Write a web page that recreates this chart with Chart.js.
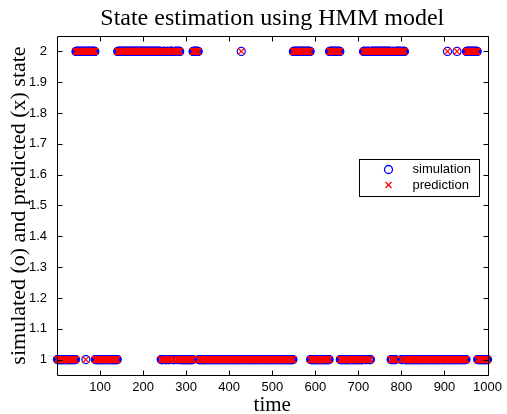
<!DOCTYPE html>
<html>
<head>
<meta charset="utf-8">
<script src="https://cdn.jsdelivr.net/npm/chart.js@4.4.1/dist/chart.umd.min.js"></script>
<style>
html,body{margin:0;padding:0;background:#fff;}
#wrap{width:507px;height:414px;}
</style>
</head>
<body>
<div id="wrap"><canvas id="c" width="507" height="414"></canvas></div>
<script>
// ---- data ----
const titleText = "State estimation using HMM model";
const xAxisLabel = "time";
const yAxisLabel = "simulated (o) and predicted (x) state";
const seriesNames = ["simulation", "prediction"];
const xTickValues = [100, 200, 300, 400, 500, 600, 700, 800, 900, 1000];
const yTickValues = [1, 1.1, 1.2, 1.3, 1.4, 1.5, 1.6, 1.7, 1.8, 1.9, 2];
const yTickLabels = ["1", "1.1", "1.2", "1.3", "1.4", "1.5", "1.6", "1.7", "1.8", "1.9", "2"];
// state sequence as runs: last time step of each run and its state
const simRunEnds   = [43,66,67,88,140,241,246,250,255,258,262,268,273,279,281,285,315,328,427,428,548,588,632,657,711,716,719,724,728,775,779,782,786,799,802,807,906,907,928,929,950,976,1000];
const simRunStates = [1, 2, 1, 2, 1,  2,  1,  2,  1,  2,  1,  2,  1,  2,  1,  2,  1,  2,  1,  2,  1,  2,  1,  2,  1,  2,  1,  2,  1,  2,  1,  2,  1,  2,  1,  2,  1,  2,  1,  2,  1,  2,  1];
const predRunEnds   = [43,66,67,88,140,241,246,250,255,258,262,268,273,279,281,285,315,328,427,428,548,588,632,657,711,716,719,724,728,775,779,782,786,799,802,807,906,907,928,929,950,976,1000];
const predRunStates = [1, 2, 1, 2, 1,  2,  1,  2,  1,  2,  1,  2,  1,  2,  1,  2,  1,  2,  1,  2,  1,  2,  1,  2,  1,  2,  1,  2,  1,  2,  1,  2,  1,  2,  1,  2,  1,  2,  1,  2,  1,  2,  1];

function expandRuns(ends, states){
  const pts = [];
  let t = 1;
  for (let i = 0; i < ends.length; i++){
    for (; t <= ends[i]; t++) pts.push({x: t, y: states[i]});
  }
  return pts;
}
const simPoints = expandRuns(simRunEnds, simRunStates);
const predPoints = expandRuns(predRunEnds, predRunStates);

const SERIF = "'Liberation Serif','DejaVu Serif',serif";
const SANS = "'Liberation Sans',Arial,sans-serif";

const framePlugin = {
  id: 'frame',
  afterDatasetsDraw(chart){
    const ctx = chart.ctx, a = chart.chartArea;
    const xs = chart.scales.x, ys = chart.scales.y;
    ctx.save();
    ctx.strokeStyle = '#000';
    ctx.lineWidth = 1;
    const L = Math.round(a.left)+0.5, R = Math.round(a.right)+0.5, T = Math.round(a.top)+0.5, B = Math.round(a.bottom)+0.5;
    ctx.beginPath();
    ctx.rect(L, T, R-L, B-T);
    ctx.stroke();
    const tl = 5;
    ctx.beginPath();
    xTickValues.forEach(v => {
      const px = Math.round(xs.getPixelForValue(v))+0.5;
      ctx.moveTo(px, B); ctx.lineTo(px, B-tl);
      ctx.moveTo(px, T); ctx.lineTo(px, T+tl);
    });
    yTickValues.forEach(v => {
      const py = Math.round(ys.getPixelForValue(v))+0.5;
      ctx.moveTo(L, py); ctx.lineTo(L+tl, py);
      ctx.moveTo(R, py); ctx.lineTo(R-tl, py);
    });
    ctx.stroke();

    // titles
    ctx.fillStyle = '#000';
    ctx.textAlign = 'center';
    ctx.textBaseline = 'alphabetic';
    ctx.font = '24px ' + SERIF;
    ctx.fillText(titleText, (a.left+a.right)/2, 25);
    ctx.font = '21px ' + SERIF;
    ctx.fillText(xAxisLabel, (a.left+a.right)/2, 411);
    ctx.save();
    ctx.font = '22px ' + SERIF;
    ctx.translate(25, (a.top+a.bottom)/2);
    ctx.rotate(-Math.PI/2);
    ctx.fillText(yAxisLabel, 0, 0);
    ctx.restore();

    // legend
    const lx = 359.5, ly = 159.5, lw = 120, lh = 37;
    ctx.fillStyle = '#fff';
    ctx.fillRect(lx, ly, lw, lh);
    ctx.strokeStyle = '#000';
    ctx.lineWidth = 1;
    ctx.strokeRect(lx, ly, lw, lh);
    const ds = chart.data.datasets;
    const rows = [169.5, 185];
    ds.forEach((d, i) => {
      ctx.strokeStyle = d.borderColor;
      ctx.lineWidth = 1.3;
      ctx.beginPath();
      if (d.pointStyle === 'circle'){
        ctx.arc(388.5, rows[i], 4, 0, Math.PI*2);
      } else {
        const o = 3;
        ctx.moveTo(388.5-o, rows[i]-o); ctx.lineTo(388.5+o, rows[i]+o);
        ctx.moveTo(388.5-o, rows[i]+o); ctx.lineTo(388.5+o, rows[i]-o);
      }
      ctx.stroke();
      ctx.fillStyle = '#000';
      ctx.textAlign = 'left';
      ctx.textBaseline = 'middle';
      ctx.font = '13px ' + SANS;
      ctx.fillText(d.label, 412.5, rows[i]);
    });
    ctx.restore();
  }
};

new Chart(document.getElementById('c'), {
  type: 'scatter',
  data: {
    datasets: [
      {label: seriesNames[0], data: simPoints, pointStyle: 'circle', pointRadius: 4, borderColor: '#0000ff', backgroundColor: 'rgba(0,0,0,0)', borderWidth: 1.2, clip: false, order: 2},
      {label: seriesNames[1], data: predPoints, pointStyle: 'crossRot', pointRadius: 4.6, borderColor: '#ff0000', backgroundColor: '#ff0000', borderWidth: 1.3, clip: false, order: 1}
    ]
  },
  options: {
    responsive: false,
    animation: false,
    events: [],
    layout: {padding: {left: 0, right: 16, top: 36, bottom: 0}},
    plugins: {legend: {display: false}, title: {display: false}, tooltip: {enabled: false}},
    scales: {
      x: {
        type: 'linear', min: 0, max: 1000,
        afterBuildTicks: s => { s.ticks = xTickValues.map(v => ({value: v})); },
        afterFit: s => { s.height = 39; },
        grid: {display: false, drawTicks: false},
        border: {display: false},
        ticks: {color: '#000', font: {family: SANS, size: 13}, padding: 5, maxRotation: 0, autoSkip: false,
                callback: v => String(v)}
      },
      y: {
        type: 'linear', min: 0.95, max: 2.05,
        afterBuildTicks: s => { s.ticks = yTickValues.map(v => ({value: v})); },
        afterFit: s => { s.width = 57; },
        grid: {display: false, drawTicks: false},
        border: {display: false},
        ticks: {color: '#000', font: {family: SANS, size: 13}, padding: 10, autoSkip: false,
                callback: (v) => { const i = yTickValues.findIndex(t => Math.abs(t - v) < 1e-9); return i >= 0 ? yTickLabels[i] : ''; }}
      }
    }
  },
  plugins: [framePlugin]
});
</script>
</body>
</html>
